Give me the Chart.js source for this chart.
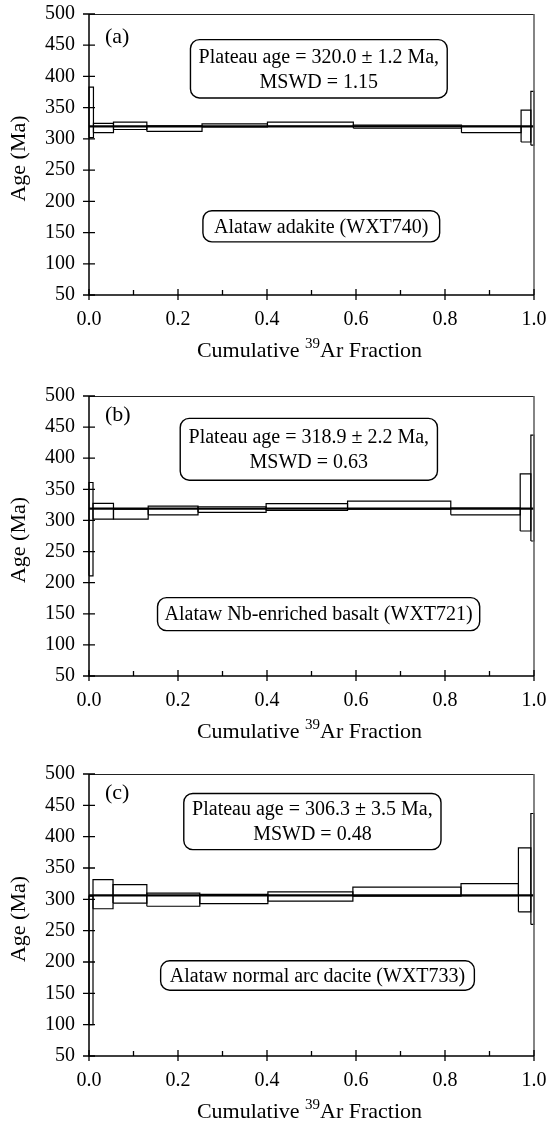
<!DOCTYPE html>
<html lang="en">
<head>
<meta charset="UTF-8">
<title>Ar-Ar age spectra, Alataw samples</title>
<script src="https://cdn.jsdelivr.net/npm/chart.js"></script>
<style>
  body { margin: 0; background: #fff; width: 549px; height: 1123px; position: relative; overflow: hidden; }
  canvas { position: absolute; left: 0; }
</style>
</head>
<body>
<canvas id="chartA" width="549" height="374" style="top:0px"></canvas>
<canvas id="chartB" width="549" height="375" style="top:374px"></canvas>
<canvas id="chartC" width="549" height="374" style="top:749px"></canvas>
<script>
// step boundaries (cumulative 39Ar fraction) and 2-sigma age limits (Ma) for each step

// (a) WXT740
const edgesA = [0, 0.010, 0.055, 0.130, 0.254, 0.401, 0.594, 0.837, 0.971, 0.993, 1.0];
const lowA = [302, 310, 315, 312, 319, 320, 317, 310, 295, 290];
const highA = [383, 325, 327, 321, 324, 327, 322, 320, 346, 376];
const plateauA = 320.0;

// (b) WXT721
const edgesB = [0, 0.009, 0.055, 0.133, 0.245, 0.398, 0.581, 0.813, 0.969, 0.993, 1.0];
const lowB = [211, 302, 302, 309, 313, 316, 318, 309, 283, 267];
const highB = [361, 327.5, 318, 323, 322, 327, 331, 320, 375, 437];
const plateauB = 318.9;

// (c) WXT733
const edgesC = [0, 0.009, 0.054, 0.130, 0.249, 0.402, 0.593, 0.836, 0.965, 0.993, 1.0];
const lowC = [100, 285, 294, 289, 293, 297, 305, 306, 280, 260];
const highC = [305, 331.5, 323.5, 310, 308, 312, 319.5, 325, 382, 437];
const plateauC = 306.3;

const yTicks = [50, 100, 150, 200, 250, 300, 350, 400, 450, 500];
const xTicks = [0, 0.2, 0.4, 0.6, 0.8, 1.0];

const SERIF = '"Liberation Serif", "Times New Roman", Times, serif';

// one closed rectangle per heating step
function stepBoxes(edges, low, high) {
    return low.map((lo, i) => ({
        data: [
            { x: edges[i], y: lo }, { x: edges[i + 1], y: lo },
            { x: edges[i + 1], y: high[i] }, { x: edges[i], y: high[i] },
            { x: edges[i], y: lo }
        ],
        borderColor: '#000',
        borderWidth: 1.2,
        pointRadius: 0,
        showLine: true,
        fill: false,
        clip: false
    }));
}

function plateauLine(age) {
    return {
        data: [{ x: 0, y: age }, { x: 1, y: age }],
        borderColor: '#000',
        borderWidth: 2.2,
        pointRadius: 0,
        showLine: true,
        fill: false,
        clip: false
    };
}

// frame, crossing ticks, labels and text boxes
function decorPlugin(p) {
    return {
        id: 'decor',
        afterDraw(chart) {
            const ctx = chart.ctx;
            const a = chart.chartArea;
            const xs = chart.scales.x, ys = chart.scales.y;
            const px = v => xs.getPixelForValue(v);
            const py = v => ys.getPixelForValue(v);
            ctx.save();

            // top and right border
            ctx.strokeStyle = '#222';
            ctx.lineWidth = 1;
            ctx.beginPath();
            ctx.moveTo(a.left, a.top + 0.5);
            ctx.lineTo(a.right, a.top + 0.5);
            ctx.stroke();
            ctx.strokeStyle = '#666';
            ctx.lineWidth = 1.6;
            ctx.beginPath();
            ctx.moveTo(a.right, a.top);
            ctx.lineTo(a.right, a.bottom);
            ctx.stroke();

            // left and bottom axes
            ctx.strokeStyle = '#000';
            ctx.lineWidth = 1.5;
            ctx.beginPath();
            ctx.moveTo(a.left, a.top);
            ctx.lineTo(a.left, a.bottom);
            ctx.lineTo(a.right, a.bottom);
            ctx.stroke();

            // y ticks cross the axis
            ctx.lineWidth = 1.3;
            ctx.beginPath();
            yTicks.forEach(v => {
                const y = py(v);
                ctx.moveTo(a.left - 6, y);
                ctx.lineTo(a.left + 6, y);
            });
            // x: major ticks cross, minor ticks inside
            for (let i = 0; i <= 10; i++) {
                const x = px(i / 10);
                if (i % 2 === 0) {
                    ctx.moveTo(x, a.bottom + 5);
                    ctx.lineTo(x, a.bottom - 6);
                } else {
                    ctx.moveTo(x, a.bottom);
                    ctx.lineTo(x, a.bottom - 5);
                }
            }
            ctx.stroke();

            // panel letter
            ctx.fillStyle = '#000';
            ctx.font = '22px ' + SERIF;
            ctx.textAlign = 'left';
            ctx.textBaseline = 'middle';
            ctx.fillText(p.letter, px(p.letterAt[0]), py(p.letterAt[1]));

            // rounded text boxes
            ctx.font = '20px ' + SERIF;
            ctx.textAlign = 'center';
            p.boxes.forEach(b => {
                const x0 = px(b.x[0]), x1 = px(b.x[1]);
                const y0 = py(b.y[1]), y1 = py(b.y[0]);
                ctx.fillStyle = '#fff';
                ctx.strokeStyle = '#000';
                ctx.lineWidth = 1.4;
                ctx.beginPath();
                ctx.roundRect(x0, y0, x1 - x0, y1 - y0, 9);
                ctx.fill();
                ctx.stroke();
                ctx.fillStyle = '#000';
                const cx = (x0 + x1) / 2, cy = (y0 + y1) / 2;
                const gap = 25;
                b.lines.forEach((t, k) => {
                    const off = (k - (b.lines.length - 1) / 2) * gap;
                    ctx.fillText(t, cx, cy + off + 1);
                });
            });

            // y axis title
            ctx.font = '22px ' + SERIF;
            ctx.save();
            ctx.translate(19, (a.top + a.bottom) / 2 + 4);
            ctx.rotate(-Math.PI / 2);
            ctx.textAlign = 'center';
            ctx.textBaseline = 'middle';
            ctx.fillText('Age (Ma)', 0, 0);
            ctx.restore();

            // x axis title with superscript mass number
            const big = '22px ' + SERIF, small = '15px ' + SERIF;
            const s1 = 'Cumulative ', s2 = '39', s3 = 'Ar Fraction';
            ctx.font = big;
            const w1 = ctx.measureText(s1).width, w3 = ctx.measureText(s3).width;
            ctx.font = small;
            const w2 = ctx.measureText(s2).width;
            let x = (a.left + a.right) / 2 - 2 - (w1 + w2 + w3) / 2;
            const base = a.bottom + 62;
            ctx.textAlign = 'left';
            ctx.textBaseline = 'alphabetic';
            ctx.font = big;
            ctx.fillText(s1, x, base);
            x += w1;
            ctx.font = small;
            ctx.fillText(s2, x, base - 9);
            x += w2;
            ctx.font = big;
            ctx.fillText(s3, x, base);

            ctx.restore();
        }
    };
}

function makeChart(id, p) {
    const canvas = document.getElementById(id);
    const H = canvas.height;
    const tickFont = { family: SERIF, size: 20 };
    return new Chart(canvas, {
        type: 'scatter',
        data: {
            datasets: [...stepBoxes(p.edges, p.low, p.high), plateauLine(p.plateau)]
        },
        options: {
            responsive: false,
            animation: false,
            events: [],
            layout: { padding: { top: p.top, right: 549 - 534, left: 0, bottom: 0 } },
            plugins: { legend: { display: false }, tooltip: { enabled: false } },
            scales: {
                x: {
                    type: 'linear',
                    min: 0, max: 1,
                    afterBuildTicks: s => { s.ticks = xTicks.map(v => ({ value: v })); },
                    afterFit: s => {
                        s.height = H - p.bottom;
                        s.paddingLeft = 0;
                        s.paddingRight = 0;
                    },
                    ticks: { font: tickFont, color: '#000', padding: 13, maxRotation: 0, callback: v => v.toFixed(1) },
                    grid: { display: false, drawTicks: false },
                    border: { display: false }
                },
                y: {
                    type: 'linear',
                    min: 50, max: 500,
                    afterBuildTicks: s => { s.ticks = yTicks.map(v => ({ value: v })); },
                    afterFit: s => {
                        s.width = 89;
                        s.paddingTop = 0;
                        s.paddingBottom = 0;
                    },
                    ticks: { font: tickFont, color: '#000', padding: 14, callback: v => String(v) },
                    grid: { display: false, drawTicks: false },
                    border: { display: false }
                }
            }
        },
        plugins: [decorPlugin(p)]
    });
}

makeChart('chartA', {
    edges: edgesA, low: lowA, high: highA, plateau: plateauA,
    top: 14, bottom: 295,
    letter: '(a)', letterAt: [0.036, 463],
    boxes: [
        { x: [0.228, 0.805], y: [365.5, 459], lines: ['Plateau age = 320.0 \u00b1 1.2 Ma,', 'MSWD = 1.15'] },
        { x: [0.256, 0.788], y: [135, 185], lines: ['Alataw adakite (WXT740)'] }
    ]
});

makeChart('chartB', {
    edges: edgesB, low: lowB, high: highB, plateau: plateauB,
    top: 22, bottom: 302,
    letter: '(b)', letterAt: [0.036, 469],
    boxes: [
        { x: [0.205, 0.783], y: [364.7, 464], lines: ['Plateau age = 318.9 \u00b1 2.2 Ma,', 'MSWD = 0.63'] },
        { x: [0.154, 0.878], y: [123, 176], lines: ['Alataw Nb-enriched basalt (WXT721)'] }
    ]
});

makeChart('chartC', {
    edges: edgesC, low: lowC, high: highC, plateau: plateauC,
    top: 25, bottom: 307,
    letter: '(c)', letterAt: [0.036, 469],
    boxes: [
        { x: [0.213, 0.791], y: [379.4, 469], lines: ['Plateau age = 306.3 \u00b1 3.5 Ma,', 'MSWD = 0.48'] },
        { x: [0.161, 0.866], y: [155, 202], lines: ['Alataw normal arc dacite (WXT733)'] }
    ]
});
</script>
</body>
</html>
